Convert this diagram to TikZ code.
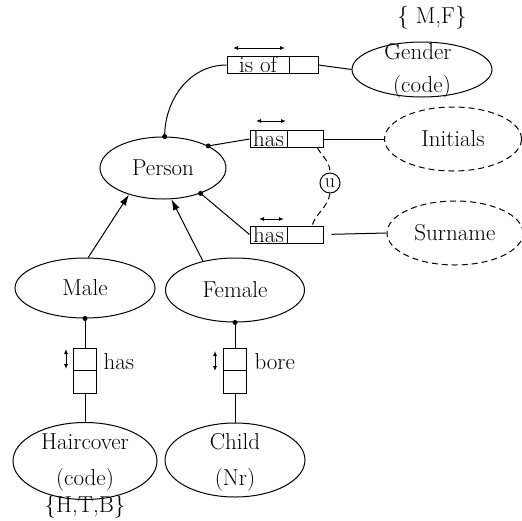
\documentclass[tikz,border=0pt]{standalone}
\usepackage{fontspec}
\usetikzlibrary{shapes.geometric,arrows.meta}

\tikzset{
  objtype/.style={draw, ellipse, line width=1pt, inner sep=0pt},
  valtype/.style={objtype, dash pattern=on 6pt off 4pt},
  rolecell/.style={draw, line width=1pt, inner sep=0pt, minimum height=17pt},
  vcell/.style={draw, line width=1pt, inner sep=0pt, minimum width=23pt, minimum height=22.5pt},
  conn/.style={line width=1pt},
  subtype/.style={conn, -{Latex[length=11pt,width=7pt]}},
  readdir/.style={line width=1pt, {Latex[length=5pt,width=4pt]}-{Latex[length=5pt,width=4pt]}},
  uniq/.style={draw, circle, line width=1pt, inner sep=0pt, minimum size=20pt, font=\fontsize{20}{24}\selectfont},
}

\begin{document}
\begin{tikzpicture}[x=1pt,y=-1pt,every node/.append style={font=\fontsize{23}{27}\selectfont}]
\useasboundingbox (0,0) rectangle (522,520);
% object types
\node[objtype, minimum width=126pt, minimum height=62pt] (person) at (163,168) {Person};
\node[objtype, minimum width=140pt, minimum height=60pt] (male) at (85,288) {Male};
\node[objtype, minimum width=139pt, minimum height=64pt] (female) at (235,290) {Female};
\node[objtype, minimum width=140pt, minimum height=55pt] (gender) at (422,69.5) {};
\node (gendername) at (418,52) {Gender};
\node (gendercode) at (422,87) {(code)};
\node (gendervals) at (432,18) {\{ M,F\}};
\node[objtype, minimum width=144pt, minimum height=77pt] (haircover) at (85,461) {};
\node (hairname) at (85,442) {Haircover};
\node (haircode) at (85,480) {(code)};
\node (hairvals) at (85,507) {\{H,T,B\}};
\node[objtype, minimum width=140pt, minimum height=74pt] (child) at (235,460) {};
\node (childname) at (235,442) {Child};
\node (childcode) at (235,480) {(Nr)};
% value types
\node[valtype, minimum width=137pt, minimum height=64pt] (initials) at (453,139) {Initials};
\node[valtype, minimum width=136pt, minimum height=64pt] (surname) at (455,233) {Surname};
% roles
\node[rolecell, minimum width=62pt] (isofL) at (258,65) {is of};
\node[rolecell, minimum width=29pt] (isofR) at (303.5,65) {};
\node[rolecell, minimum width=37pt] (has1L) at (268.5,139) {has};
\node[rolecell, minimum width=36pt] (has1R) at (305,139) {};
\node[rolecell, minimum width=37pt] (has2L) at (268.5,234.5) {has};
\node[rolecell, minimum width=36pt] (has2R) at (305,234.5) {};
\node[vcell] (hairT) at (85,359.25) {};
\node[vcell] (hairB) at (85,381.75) {};
\node[anchor=west] (hairrole) at (100,362) {has};
\node[vcell] (boreT) at (235,359.25) {};
\node[vcell] (boreB) at (235,381.75) {};
\node[anchor=west] (borerole) at (251,362) {bore};
\node[uniq] (u) at (330,183) {u};
% reading directions
\draw[readdir] (233,48) -- (285,48);
\draw[readdir] (256,121) -- (286,121);
\draw[readdir] (259,219) -- (284,219);
\draw[readdir] (66,349) -- (66,369);
\draw[readdir] (215,351) -- (215,371);
% connectors
\draw[conn] (person.87) to[out=90,in=180] (isofL.west);
\draw[conn] (isofR.east) -- (gender.west);
\draw[conn] (person.26) -- (has1L.west);
\draw[conn] (has1R.east) -- (initials.west);
\draw[conn] (person.-34) -- (has2L.west);
\draw[conn, shorten <=8pt] (has2R.east) -- (surname.west);
\draw[conn] (male.south) -- (hairT.north);
\draw[conn] (hairB.south) -- (haircover.north);
\draw[conn] (female.south) -- (boreT.north);
\draw[conn] (boreB.south) -- (child.north);
\fill (person.87) circle (2.5pt);
\fill (person.26) circle (2.5pt);
\fill (person.-34) circle (2.5pt);
\fill (male.south) circle (2.5pt);
\fill (female.south) circle (2.5pt);
% subtypes
\draw[subtype] (male.84) -- (person.-142);
\draw[subtype] (female.138) -- (person.-75);
% uniqueness
\draw[conn, dash pattern=on 6pt off 4pt] ([xshift=-6pt]has1R.south east) to[out=-60,in=90] (u.north);
\draw[conn, dash pattern=on 6pt off 4pt] (u.south) to[out=-100,in=70] ([xshift=7pt]has2R.north);
\end{tikzpicture}
\end{document}
